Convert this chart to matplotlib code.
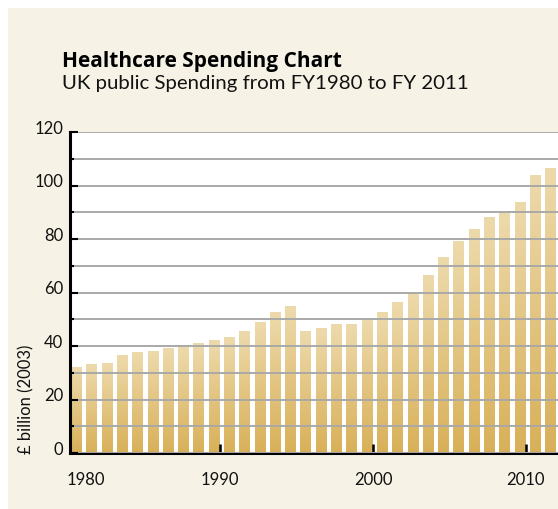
import numpy as np
import matplotlib
matplotlib.use("Agg")
import matplotlib.pyplot as plt
import matplotlib.transforms as mtrans
from matplotlib.patches import Rectangle
from matplotlib.colors import LinearSegmentedColormap
from matplotlib.transforms import ScaledTranslation

years = list(range(1980, 2012))
spending = [32.1, 32.9, 33.3, 36.6, 37.4, 38.1, 38.9, 39.4, 41.1, 41.9,
            43.0, 45.6, 48.6, 52.7, 54.6, 45.6, 46.7, 47.9, 47.9, 50.1,
            52.7, 56.4, 60.1, 66.5, 72.9, 78.9, 83.4, 87.9, 89.7, 93.5,
            103.9, 106.5]
title = "Healthcare Spending Chart"
subtitle = "UK public Spending from FY1980 to FY 2011"
ylabel = "£ billion (2003)"
xtick_years = [1990, 2000, 2010]
first_year_label = "1980"
ytick_major = [0, 20, 40, 60, 80, 100, 120]
ytick_minor = [10, 30, 50, 70, 90, 110]

plt.rcParams['font.family'] = ['Lato', 'DejaVu Sans']

W, H = 558, 510
fig = plt.figure(figsize=(W / 100, H / 100), dpi=100)
fig.patch.set_facecolor('white')
fig.patches.append(Rectangle((8 / W, 0), 1 - 8 / W, (H - 9) / H,
                             transform=fig.transFigure, facecolor='#f6f3e6',
                             edgecolor='none', zorder=-10))

left, right = 69.5 / W, 1.0
bottom, top = (H - 454) / H, (H - 133) / H
ax = fig.add_axes([left, bottom, right - left, top - bottom])
ax.set_facecolor('white')

cmap = LinearSegmentedColormap.from_list('g', ['#d8b058', '#eddaac'])
grad = np.linspace(0, 1, 256).reshape(-1, 1)
offset, width = 0.26, 0.68
for yr, v in zip(years, spending):
    x0 = yr + offset
    ax.imshow(grad, cmap=cmap, origin='lower', aspect='auto',
              extent=(x0, x0 + width, 0, v), interpolation='bilinear', zorder=1)

ax.set_xlim(1980.16, 2012.1)
ax.set_ylim(0, 120)

for s in ['top', 'right']:
    ax.spines[s].set_visible(False)
for s in ['left', 'bottom']:
    ax.spines[s].set_linewidth(2.2)
    ax.spines[s].set_color('black')

ax.set_yticks(ytick_major)
ax.set_yticks(ytick_minor, minor=True)
ax.set_yticklabels([str(t) for t in ytick_major])
ax.tick_params(axis='y', which='major', direction='in', length=5.5, width=1.5,
               color='black', labelsize=12, pad=4.5, labelcolor='#111111')
ax.tick_params(axis='y', which='minor', direction='in', length=3, width=1.5, color='black')
ax.set_xticks(xtick_years)
ax.set_xticklabels([str(t) for t in xtick_years])
ax.tick_params(axis='x', which='major', direction='in', length=6.5, width=1.8,
               color='black', labelsize=12, pad=13, labelcolor='#111111')
ax.yaxis.grid(True, which='both', color='#a9a9a9', linewidth=1.4)
ax.set_axisbelow(False)

shift = ScaledTranslation(0, 4 / 72, fig.dpi_scale_trans)
for lab in ax.get_yticklabels():
    lab.set_transform(lab.get_transform() + shift)

tr = mtrans.blended_transform_factory(ax.transData, ax.transAxes)
ax.text(int(first_year_label), 0, first_year_label,
        transform=tr + ScaledTranslation(0, -13 / 72, fig.dpi_scale_trans),
        ha='left', va='top', fontsize=12, color='#111111', clip_on=False)

fig.text(26 / W, (H - 454) / H, ylabel, rotation=90, ha='center', va='bottom',
         fontsize=12, color='#111111')
fig.text(62 / W, (H - 67) / H, title, ha='left', va='baseline', fontsize=15,
         fontweight='bold', color='black', family=['Open Sans', 'DejaVu Sans'])
fig.text(62 / W, (H - 89) / H, subtitle, ha='left', va='baseline', fontsize=14.7,
         color='#111111')

fig.savefig('out.png', dpi=100)
